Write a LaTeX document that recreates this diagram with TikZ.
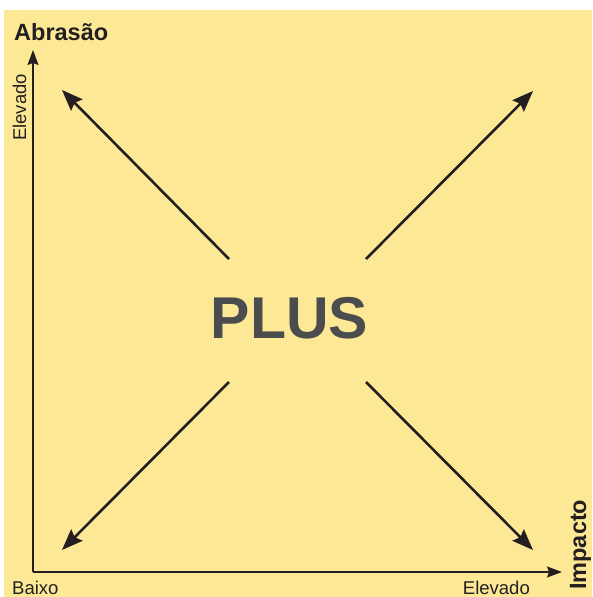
\documentclass[tikz,border=0pt]{standalone}
\usepackage{fontspec}
\setmainfont{Liberation Sans}
\usetikzlibrary{arrows.meta}
\definecolor{bgyellow}{HTML}{FDE995}
\definecolor{plusgray}{HTML}{4B4C4E}
\definecolor{ink}{HTML}{231F20}
\begin{document}
\begin{tikzpicture}[x=1pt,y=1pt,
  axis/.style={draw=ink,line width=1.3pt,-{Stealth[length=15pt,width=11pt,inset=2pt]}},
  diag/.style={draw=ink,line width=2.6pt,-{Stealth[length=21pt,width=16pt,inset=3pt]}},
  lbl/.style={inner sep=0pt,text=ink,font=\fontsize{18.5}{20}\selectfont},
  blbl/.style={inner sep=0pt,text=ink,font=\fontsize{23.5}{25}\selectfont\bfseries}]
\useasboundingbox (0,0) rectangle (592,-597);
\fill[bgyellow] (4,-10) rectangle (592,-597);
% axes
\coordinate (origin) at (33,-572);
\coordinate (ytip) at (33,-50);
\coordinate (xtip) at (562,-572);
\draw[axis] (origin) -- (ytip);
\draw[axis] (origin) -- (xtip);
% labels
\node[blbl,anchor=base west] (abr) at (14,-40) {Abrasão};
\node[lbl,anchor=base west,rotate=90] (elev1) at (26,-141) {Elevado};
\node[lbl,anchor=base west] (baixo) at (12,-594) {Baixo};
\node[lbl,anchor=base east] (elev2) at (530,-594) {Elevado};
\node[blbl,anchor=base west,rotate=90] (imp) at (586,-590) {Impacto};
% center
\node[inner sep=0pt,anchor=base,text=plusgray,font=\fontsize{59}{60}\selectfont\bfseries] (plus) at (289.5,-338) {PLUS};
% diagonal arrows
\coordinate (s1) at (229,-259);
\coordinate (s2) at (366,-259);
\coordinate (s3) at (229,-382);
\coordinate (s4) at (366,-382);
\coordinate (t1) at (62,-90);
\coordinate (t2) at (533,-91);
\coordinate (t3) at (62,-550);
\coordinate (t4) at (533,-550);
\draw[diag] (s1) -- (t1);
\draw[diag] (s2) -- (t2);
\draw[diag] (s3) -- (t3);
\draw[diag] (s4) -- (t4);
\end{tikzpicture}
\end{document}
